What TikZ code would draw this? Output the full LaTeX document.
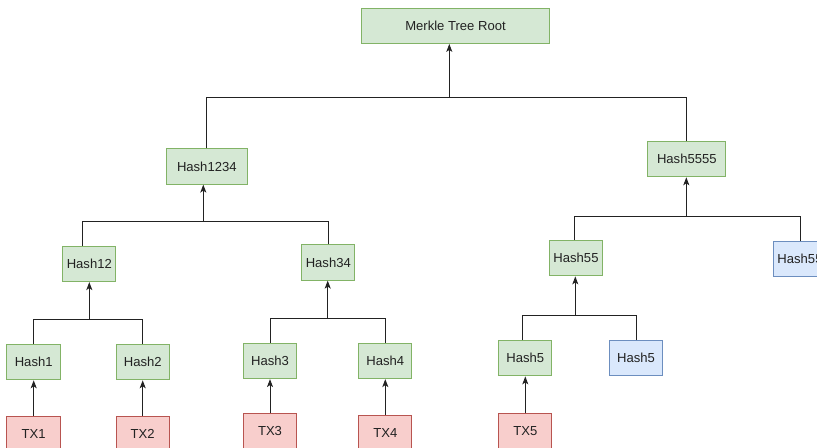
\documentclass[tikz,border=0pt]{standalone}
\usepackage{fontspec}
\setmainfont{Liberation Sans}
\usetikzlibrary{arrows.meta}
\definecolor{gfill}{HTML}{D5E8D4}
\definecolor{gline}{HTML}{82B366}
\definecolor{rfill}{HTML}{F8CECC}
\definecolor{rline}{HTML}{B85450}
\definecolor{bfill}{HTML}{DAE8FC}
\definecolor{bline}{HTML}{6C8EBF}
\definecolor{ink}{HTML}{222222}
\begin{document}
\begin{tikzpicture}[x=0.75pt,y=-0.75pt,
  box/.style={draw, line width=0.75pt, minimum height=26.4pt, inner sep=0pt,
    font=\fontsize{9.8}{12}\selectfont, text=ink},
  hashbox/.style={box, fill=gfill, draw=gline},
  txbox/.style={box, fill=rfill, draw=rline},
  dupbox/.style={box, fill=bfill, draw=bline},
  link/.style={draw=ink, line width=0.75pt},
  edge/.style={link, -{Stealth[length=6pt,width=4.5pt,inset=1.5pt]}}]
\useasboundingbox (0,0) rectangle (817,448);
\clip (0,0) rectangle (817,448);

% nodes
\node[hashbox, minimum width=140.7pt] (root) at (455.5,25.8) {Merkle Tree Root};
\node[hashbox, minimum width=61pt] (h1234) at (206.8,166.5) {Hash1234};
\node[hashbox, minimum width=58.7pt] (h5555) at (686.8,159.2) {Hash5555};
\node[hashbox, minimum width=40pt] (h12) at (89.3,264) {Hash12};
\node[hashbox, minimum width=40pt] (h34) at (328.3,262.5) {Hash34};
\node[hashbox, minimum width=40pt] (h55) at (576,258.3) {Hash55};
\node[dupbox, minimum width=40pt] (h55d) at (800,259.3) {Hash55};
\node[hashbox, minimum width=40.5pt] (h1) at (33.7,362.2) {Hash1};
\node[hashbox, minimum width=40pt] (h2) at (142.7,362.2) {Hash2};
\node[hashbox, minimum width=40pt] (h3) at (270,361) {Hash3};
\node[hashbox, minimum width=40pt] (h4) at (385.3,361) {Hash4};
\node[hashbox, minimum width=40pt] (h5) at (525.3,358.3) {Hash5};
\node[dupbox, minimum width=40pt] (h5d) at (636,358.3) {Hash5};
\node[txbox, minimum width=40.5pt] (tx1) at (33.7,433.8) {TX1};
\node[txbox, minimum width=40pt] (tx2) at (142.7,433.8) {TX2};
\node[txbox, minimum width=40pt] (tx3) at (270,431.5) {TX3};
\node[txbox, minimum width=40pt] (tx4) at (385.3,432.8) {TX4};
\node[txbox, minimum width=40pt] (tx5) at (525.3,431.5) {TX5};

% junctions on the horizontal bars
\coordinate (jroot) at (449.3,97.3);
\coordinate (j1234) at (203.3,221.8);
\coordinate (j5555) at (686.3,217);
\coordinate (j12) at (89.3,320);
\coordinate (j34) at (327.7,318.3);
\coordinate (j55) at (575.3,315.3);

% root level
\draw[link] (h1234.north) |- (jroot);
\draw[link] (h5555.north) |- (jroot);
\draw[edge] (jroot) -- (jroot |- root.south);

% Hash1234
\draw[link] ([xshift=-5pt]h12.north) |- (j1234);
\draw[link] (h34.north) |- (j1234);
\draw[edge] (j1234) -- (j1234 |- h1234.south);

% Hash5555
\draw[link] ([xshift=-1pt]h55.north) |- (j5555);
\draw[link] (h55d.north) |- (j5555);
\draw[edge] (j5555) -- (j5555 |- h5555.south);

% Hash12, Hash34, Hash55
\draw[link] (h1.north) |- (j12);
\draw[link] (h2.north) |- (j12);
\draw[edge] (j12) -- (j12 |- h12.south);
\draw[link] (h3.north) |- (j34);
\draw[link] (h4.north) |- (j34);
\draw[edge] (j34) -- (j34 |- h34.south);
\draw[link] ([xshift=-2pt]h5.north) |- (j55);
\draw[link] (h5d.north) |- (j55);
\draw[edge] (j55) -- (j55 |- h55.south);

% transactions into leaf hashes
\draw[edge] (tx1) -- (h1);
\draw[edge] (tx2) -- (h2);
\draw[edge] (tx3) -- (h3);
\draw[edge] (tx4) -- (h4);
\draw[edge] (tx5) -- (h5);
\end{tikzpicture}
\end{document}
